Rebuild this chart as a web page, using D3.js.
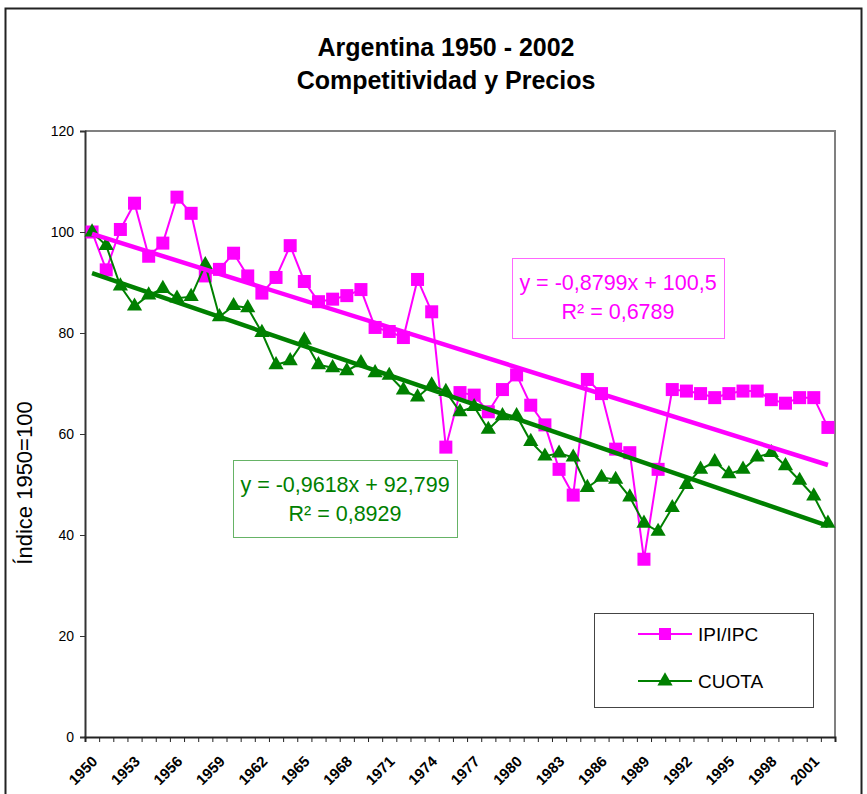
<!DOCTYPE html>
<html>
<head>
<meta charset="utf-8">
<script src="https://cdn.jsdelivr.net/npm/d3@7"></script>
<style>
  body { margin: 0; background: #fff; }
  svg { font-family: "Liberation Sans", Arial, sans-serif; }
</style>
</head>
<body>
<svg id="chart" width="867" height="794"></svg>
<script>
// data
const years = d3.range(1950, 2003);
const labelYears = d3.range(1950, 2003, 3);
const ipiIpc = [100, 92.5, 100.5, 105.7, 95.2, 97.8, 106.9, 103.7, 91.3, 92.6,
  95.8, 91.3, 87.9, 91.0, 97.3, 90.2, 86.2, 86.7, 87.4, 88.6,
  81.1, 80.3, 79.1, 90.6, 84.2, 57.4, 68.2, 67.7, 64.4, 68.8,
  71.7, 65.7, 61.8, 53.0, 47.9, 70.8, 68.0, 57.0, 56.3, 35.2,
  53.0, 68.8, 68.5, 68.0, 67.2, 68.0, 68.5, 68.5, 66.8, 66.1,
  67.2, 67.2, 61.3];
const cuota = [100, 97.3, 89.3, 85.3, 87.5, 88.8, 86.9, 87.2, 93.5, 83.2,
  85.4, 85.0, 80.1, 73.7, 74.5, 78.6, 73.7, 73.1, 72.5, 74.1,
  72.1, 71.6, 68.7, 67.3, 69.7, 68.4, 64.4, 65.4, 60.9, 63.6,
  63.6, 58.5, 55.6, 56.2, 55.4, 49.4, 51.4, 51.0, 47.5, 42.3,
  40.7, 45.4, 50.0, 53.0, 54.5, 52.1, 53.0, 55.4, 56.3, 53.7,
  50.8, 47.7, 42.3];
const yTicks = [0, 20, 40, 60, 80, 100, 120];
// trendline coefficients as printed on the chart (x = 1..53)
const trendIpi = { slope: -0.8799, intercept: 100.5, eq: 'y = -0,8799x + 100,5', r2: '0,6789' };
const trendCuota = { slope: -0.9618, intercept: 92.799, eq: 'y = -0,9618x + 92,799', r2: '0,8929' };

const pink = '#ff00ff';
const green = '#008000';

const svg = d3.select('#chart');
const plot = { left: 85, right: 835, top: 131, bottom: 737 };

// outer chart frame
svg.append('rect')
  .attr('x', 5.5).attr('y', 8.5)
  .attr('width', 856).attr('height', 820)
  .attr('fill', '#fff')
  .attr('stroke', '#222')
  .attr('stroke-width', 2);

svg.append('text')
  .attr('x', 446).attr('y', 56)
  .attr('text-anchor', 'middle')
  .attr('font-size', '25px')
  .attr('font-weight', 'bold')
  .text('Argentina 1950 - 2002');
svg.append('text')
  .attr('x', 446).attr('y', 89)
  .attr('text-anchor', 'middle')
  .attr('font-size', '25px')
  .attr('font-weight', 'bold')
  .text('Competitividad y Precios');

const x = d3.scaleBand().domain(years).range([plot.left, plot.right]);
const xIdx = d3.scaleLinear().domain([0, years.length]).range([plot.left, plot.right]);
const y = d3.scaleLinear().domain([0, 120]).range([plot.bottom, plot.top]);
const cx = yr => x(yr) + x.bandwidth() / 2;

// plot area frame (top + right)
svg.append('path')
  .attr('d', `M${plot.left},${plot.top}H${plot.right}V${plot.bottom}`)
  .attr('fill', 'none')
  .attr('stroke', '#808080')
  .attr('stroke-width', 2);

svg.append('g')
  .attr('transform', `translate(${plot.left},0)`)
  .call(d3.axisLeft(y).tickValues(yTicks).tickSize(5).tickPadding(6))
  .call(g => g.select('.domain').attr('stroke', '#333').attr('stroke-width', 2))
  .call(g => g.selectAll('.tick line').attr('stroke', '#333'))
  .call(g => g.selectAll('text').attr('font-size', '14px').attr('font-family', '"Liberation Sans", Arial').attr('fill', '#000'));

svg.append('g')
  .attr('transform', `translate(0,${plot.bottom})`)
  .call(d3.axisBottom(xIdx).tickValues(d3.range(0, years.length + 1)).tickSize(5).tickFormat(''))
  .call(g => g.select('.domain').attr('stroke', '#222').attr('stroke-width', 2))
  .call(g => g.selectAll('.tick line').attr('stroke', '#222'));

svg.append('g')
  .selectAll('text')
  .data(labelYears)
  .join('text')
  .attr('transform', d => `translate(${cx(d) - 1},${plot.bottom + 18}) rotate(-45)`)
  .attr('text-anchor', 'end')
  .attr('dy', '0.7em')
  .attr('font-size', '15px')
  .attr('font-weight', 'bold')
  .text(d => d);

svg.append('text')
  .attr('transform', `translate(32,483) rotate(-90)`)
  .attr('text-anchor', 'middle')
  .attr('font-size', '22px')
  .text('Índice 1950=100');

// series
const line = d3.line().x((d, i) => cx(years[i])).y(d => y(d));

svg.append('path')
  .datum(ipiIpc)
  .attr('fill', 'none')
  .attr('stroke', pink)
  .attr('stroke-width', 2)
  .attr('d', line);

svg.append('g')
  .selectAll('rect')
  .data(ipiIpc)
  .join('rect')
  .attr('x', (d, i) => cx(years[i]) - 6.5)
  .attr('y', d => y(d) - 6.5)
  .attr('width', 13).attr('height', 13)
  .attr('fill', pink);

svg.append('path')
  .datum(cuota)
  .attr('fill', 'none')
  .attr('stroke', green)
  .attr('stroke-width', 2)
  .attr('d', line);

const tri = d3.symbol().type(d3.symbolTriangle).size(100);
svg.append('g')
  .selectAll('path')
  .data(cuota)
  .join('path')
  .attr('transform', (d, i) => `translate(${cx(years[i])},${y(d)})`)
  .attr('d', tri)
  .attr('fill', green);

// trendlines
function trend(t, color) {
  const pts = [1, years.length].map(n => [cx(years[n - 1]), y(t.slope * n + t.intercept)]);
  svg.append('path')
    .attr('d', d3.line()(pts))
    .attr('stroke', color)
    .attr('stroke-width', 4.5)
    .attr('fill', 'none');
}
trend(trendIpi, pink);
trend(trendCuota, green);

// equation boxes
function eqBox(t, color, bx, by, bw, bh) {
  svg.append('rect')
    .attr('x', bx + 0.5).attr('y', by + 0.5)
    .attr('width', bw).attr('height', bh)
    .attr('fill', '#fff')
    .attr('stroke', color)
    .attr('stroke-opacity', 0.6);
  svg.append('text')
    .attr('x', bx + bw / 2).attr('y', by + 32)
    .attr('text-anchor', 'middle')
    .attr('font-size', '21.5px')
    .attr('fill', color)
    .text(t.eq);
  svg.append('text')
    .attr('x', bx + bw / 2).attr('y', by + 61)
    .attr('text-anchor', 'middle')
    .attr('font-size', '21.5px')
    .attr('fill', color)
    .text(`R² = ${t.r2}`);
}
eqBox(trendIpi, pink, 512, 258, 212, 80);
eqBox(trendCuota, green, 233, 460, 224, 77);

// legend
const legend = svg.append('g').attr('transform', 'translate(594,613)');
legend.append('rect')
  .attr('x', 0.5).attr('y', 0.5)
  .attr('width', 219).attr('height', 94)
  .attr('fill', '#fff')
  .attr('stroke', '#444');
[{ name: 'IPI/IPC', color: pink, sq: true }, { name: 'CUOTA', color: green, sq: false }].forEach((s, i) => {
  const g = legend.append('g').attr('transform', `translate(0,${21 + i * 47})`);
  g.append('line').attr('x1', 44).attr('x2', 98).attr('stroke', s.color).attr('stroke-width', 2);
  if (s.sq) {
    g.append('rect').attr('x', 65).attr('y', -6).attr('width', 12).attr('height', 12).attr('fill', s.color);
  } else {
    g.append('path').attr('transform', 'translate(71,0)').attr('d', tri).attr('fill', s.color);
  }
  g.append('text')
    .attr('x', 104).attr('dy', '0.35em')
    .attr('font-size', '19px')
    .text(s.name);
});
</script>
</body>
</html>
